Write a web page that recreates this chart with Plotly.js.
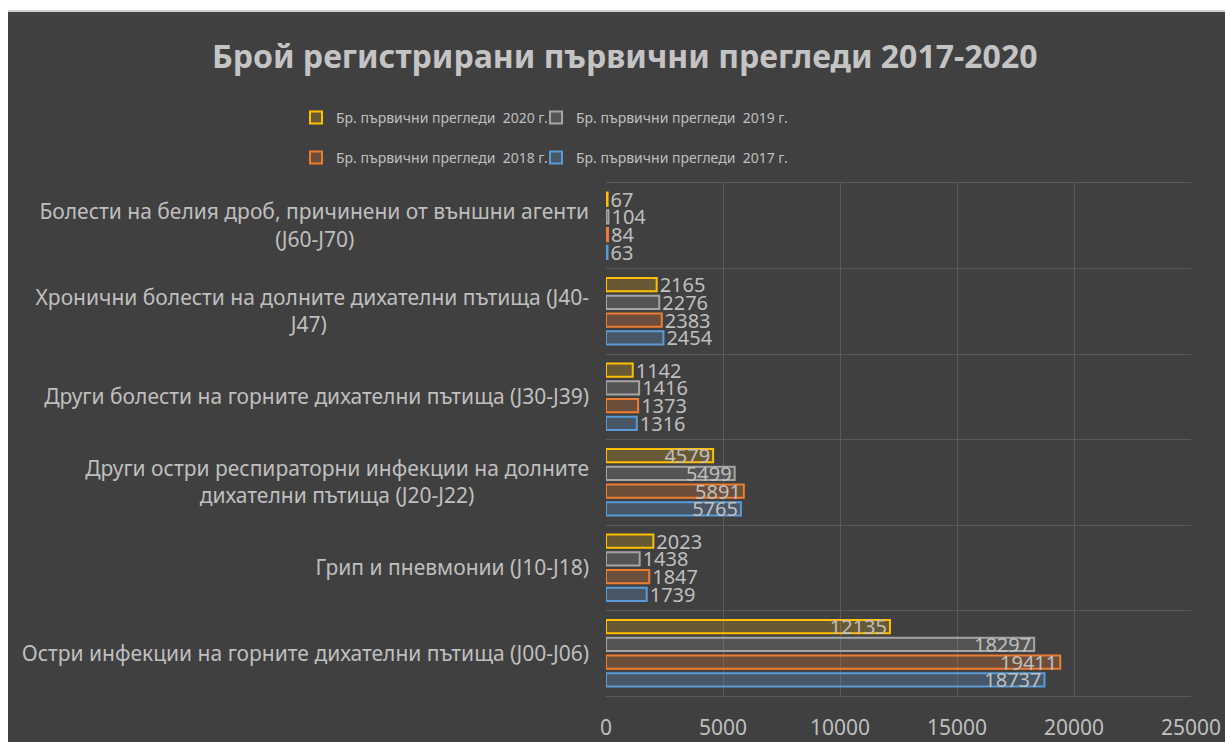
<!DOCTYPE html>
<html>
<head>
<meta charset="utf-8">
<script src="https://cdn.plot.ly/plotly-3.0.1.min.js"></script>
<style>html,body{margin:0;padding:0;background:#fff;}#chart{width:1225px;height:742px;}</style>
</head>
<body>
<div id="chart"></div>
<script>
// Categories, bottom to top (Excel order)
const categories = [
  "Остри инфекции на горните дихателни пътища (J00-J06)",
  "Грип и пневмонии (J10-J18)",
  "Други остри респираторни инфекции на долните<br>дихателни пътища (J20-J22)",
  "Други болести на горните дихателни пътища (J30-J39)",
  "Хронични болести на долните дихателни пътища (J40-<br>J47)",
  "Болести на белия дроб, причинени от външни агенти<br>(J60-J70)"
];
const values2017 = [18737, 1739, 5765, 1316, 2454, 63];
const values2018 = [19411, 1847, 5891, 1373, 2383, 84];
const values2019 = [18297, 1438, 5499, 1416, 2276, 104];
const values2020 = [12135, 2023, 4579, 1142, 2165, 67];
const seriesNames = [
  "Бр. първични прегледи  2017 г.",
  "Бр. първични прегледи  2018 г.",
  "Бр. първични прегледи  2019 г.",
  "Бр. първични прегледи  2020 г."
];
const xTicks = [0, 5000, 10000, 15000, 20000, 25000];

const FONT = "'Noto Sans', sans-serif";
const TXT = "#bfbfbf";
const TICKSIZE = 21;

// Center the lines of a multi-line tick label (tick labels are right-aligned)
const ctx = document.createElement("canvas").getContext("2d");
ctx.font = TICKSIZE + "px 'Noto Sans'";
function centerLines(label) {
  const lines = label.split("<br>");
  if (lines.length < 2) return label;
  const widths = lines.map(l => ctx.measureText(l).width);
  const maxW = Math.max(...widths);
  const nb = ctx.measureText("\u00A0").width || TICKSIZE * 0.26;
  return lines.map((l, i) => l + "\u00A0".repeat(Math.round((maxW - widths[i]) / 2 / nb))).join("<br>");
}
const tickText = categories.map(centerLines);

function trace(vals, name, color, fill, legend) {
  return {
    type: "bar", orientation: "h",
    x: vals, y: categories, name: name,
    legend: legend,
    marker: {color: fill, line: {color: color, width: 2}},
    text: vals.map(String),
    textposition: vals.map(v => v >= 3000 ? "inside" : "outside"),
    insidetextanchor: "end",
    constraintext: "none",
    textangle: 0,
    cliponaxis: false,
    insidetextfont: {color: TXT, size: 20, family: FONT},
    outsidetextfont: {color: TXT, size: 20, family: FONT},
    hoverinfo: "x+name"
  };
}

const data = [
  trace(values2017, seriesNames[0], "#5B9BD5", "rgba(91,155,213,0.25)", "legend4"),
  trace(values2018, seriesNames[1], "#ED7D31", "rgba(237,125,49,0.25)", "legend3"),
  trace(values2019, seriesNames[2], "#A5A5A5", "rgba(165,165,165,0.2)", "legend2"),
  trace(values2020, seriesNames[3], "#FFC000", "rgba(255,192,0,0.2)", "legend")
];

function legendAt(leftPx, yPaper) {
  return {
    orientation: "h", xanchor: "left", yanchor: "middle",
    x: (leftPx - 606) / 585, y: yPaper,
    bgcolor: "rgba(0,0,0,0)", font: {size: 14, color: TXT, family: FONT},
    itemwidth: 30
  };
}

const layout = {
  width: 1225, height: 742,
  paper_bgcolor: "#404040", plot_bgcolor: "#404040",
  margin: {l: 606, r: 34, t: 183, b: 46},
  font: {family: FONT, color: TXT, size: 19},
  title: {
    text: "<b>Брой регистрирани първични прегледи 2017-2020</b>",
    font: {family: FONT, size: 32, color: "#c4c4c4"},
    x: 0.51, xanchor: "center", xref: "container",
    y: 0.923, yanchor: "middle", yref: "container"
  },
  barmode: "group",
  bargap: 0.17, bargroupgap: 0.25,
  xaxis: {
    range: [0, 25000], tickvals: xTicks, ticktext: xTicks.map(String),
    showgrid: true, gridcolor: "#5a5a5a", gridwidth: 1,
    zeroline: false, showline: true, linecolor: "#5a5a5a", linewidth: 1, mirror: true,
    ticks: "",
    ticklabelstandoff: 13,
    tickfont: {size: 21, color: TXT, family: FONT},
    fixedrange: true
  },
  yaxis: {
    type: "category", categoryorder: "array", categoryarray: categories,
    tickvals: categories, ticktext: tickText,
    showgrid: true, gridcolor: "#5a5a5a", tickson: "boundaries",
    ticks: "", showline: false, zeroline: false,
    tickfont: {size: TICKSIZE, color: TXT, family: FONT},
    ticklabelstandoff: 16,
    fixedrange: true
  },
  legend: legendAt(296, 1.127),
  legend2: legendAt(536, 1.127),
  legend3: legendAt(296, 1.049),
  legend4: legendAt(536, 1.049),
  shapes: [
    {type: "rect", xref: "paper", yref: "paper", x0: -1.1, x1: -598 / 585, y0: -0.2, y1: 1.5,
     fillcolor: "#ffffff", line: {width: 0}, layer: "above"},
    {type: "rect", xref: "paper", yref: "paper", x0: -1.1, x1: 1.2, y0: (696 - 11) / 513, y1: 1.5,
     fillcolor: "#ffffff", line: {width: 0}, layer: "above"},
    {type: "line", xref: "paper", yref: "paper", x0: -598 / 585, x1: 1.2, y0: (696 - 11) / 513, y1: (696 - 11) / 513,
     line: {color: "#d0d0d0", width: 2}, layer: "above"}
  ],
  showlegend: true
};

Plotly.newPlot("chart", data, layout, {displayModeBar: false, staticPlot: true});
</script>
</body>
</html>
